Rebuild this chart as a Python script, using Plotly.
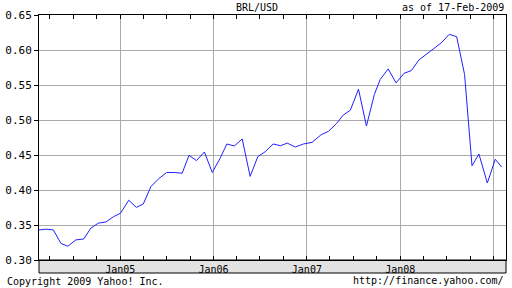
import plotly.graph_objects as go

dates = [
    "2004-02-18", "2004-03-17", "2004-04-14", "2004-05-14", "2004-06-10", "2004-07-11",
    "2004-08-11", "2004-09-08", "2004-10-07", "2004-11-06", "2004-12-06", "2005-01-02",
    "2005-02-03", "2005-03-05", "2005-04-01", "2005-05-01", "2005-05-31", "2005-07-01",
    "2005-07-31", "2005-08-31", "2005-09-27", "2005-10-26", "2005-11-26", "2005-12-27",
    "2006-01-26", "2006-02-22", "2006-03-23", "2006-04-23", "2006-05-24", "2006-06-23",
    "2006-07-22", "2006-08-22", "2006-09-20", "2006-10-16", "2006-11-17", "2006-12-18",
    "2007-01-21", "2007-02-26", "2007-03-26", "2007-04-27", "2007-05-23", "2007-06-20",
    "2007-07-22", "2007-08-22", "2007-09-22", "2007-10-15", "2007-11-15", "2007-12-16",
    "2008-01-16", "2008-02-14", "2008-03-14", "2008-04-13", "2008-05-11", "2008-06-09",
    "2008-07-11", "2008-08-09", "2008-09-09", "2008-10-08", "2008-11-04", "2008-12-07",
    "2009-01-07", "2009-02-01",
]
brl_usd = [
    0.343, 0.344, 0.343, 0.3236, 0.3197, 0.3287, 0.330, 0.3456, 0.3526, 0.3544, 0.362, 0.3668,
    0.3854, 0.3752, 0.380, 0.405, 0.416, 0.425, 0.425, 0.424, 0.4495, 0.442, 0.4543, 0.425,
    0.445, 0.4657, 0.4629, 0.4729, 0.4194, 0.4476, 0.4547, 0.4657, 0.4633, 0.467, 0.4614, 0.4657,
    0.468, 0.479, 0.4837, 0.495, 0.507, 0.514, 0.544, 0.4914, 0.5365, 0.558, 0.573, 0.553,
    0.5667, 0.5706, 0.5857, 0.594, 0.603, 0.610, 0.6224, 0.619, 0.565, 0.4346, 0.4514, 0.410,
    0.4439, 0.4328,
]
year_ticks = ["2005-01-01", "2006-01-01", "2007-01-01", "2008-01-01", "2009-01-01"]
year_labels = ["Jan05", "Jan06", "Jan07", "Jan08", ""]

MONO = "DejaVu Sans Mono"
GRID = "#aaaaaa"

fig = go.Figure()
fig.add_trace(go.Scatter(x=dates, y=brl_usd, mode="lines",
                         line=dict(color="#2020ff", width=1), showlegend=False))

fig.update_layout(
    width=512, height=288,
    margin=dict(l=34, r=5, t=15, b=28),
    paper_bgcolor="white", plot_bgcolor="white",
    font=dict(family=MONO, size=10, color="black"),
    xaxis=dict(
        range=["2004-02-18", "2009-02-18"],
        tickmode="array", tickvals=year_ticks, ticktext=year_labels,
        showgrid=True, gridcolor=GRID, gridwidth=1,
        ticks="", ticklen=0,
        showline=True, linecolor="black", linewidth=1, mirror="ticks",
        tickfont=dict(family=MONO, size=10, color="black"),
        minor=dict(tickmode="linear", tick0="2004-01-01", dtick="M3",
                   ticks="inside", ticklen=4, tickcolor="black", showgrid=False),
        zeroline=False,
    ),
    yaxis=dict(
        range=[0.30, 0.65], dtick=0.05, tick0=0.30, tickformat=".2f",
        showgrid=True, gridcolor=GRID, gridwidth=1,
        ticks="outside", ticklen=4, tickcolor="black",
        showline=True, linecolor="black", linewidth=1, mirror=True,
        tickfont=dict(family=MONO, size=11, color="black"),
        zeroline=False,
    ),
    yaxis2=dict(
        range=[0.30, 0.65], dtick=0.05, tick0=0.30, overlaying="y", side="right",
        showgrid=False, showticklabels=False, ticks="inside", ticklen=5,
        tickcolor="black", showline=False, zeroline=False,
    ),
)

# grey date band under the plot
fig.add_shape(type="rect", xref="paper", yref="paper", x0=0, x1=1,
              y0=-13 / 245, y1=0, fillcolor="#e2e2e2",
              line=dict(color="black", width=1), layer="below")

fig.add_annotation(text="BRL/USD", xref="paper", yref="paper", x=0.4675, y=1 + 7.5 / 245,
                   xanchor="center", yanchor="middle", showarrow=False,
                   font=dict(family=MONO, size=10, color="black"))
fig.add_annotation(text="as of 17-Feb-2009", xref="paper", yref="paper", x=1, y=1 + 7.5 / 245,
                   xanchor="right", yanchor="middle", showarrow=False,
                   font=dict(family=MONO, size=10, color="black"))
fig.add_annotation(text="Copyright 2009 Yahoo! Inc.", xref="paper", yref="paper",
                   x=-34 / 473, y=-21 / 245, xanchor="left", yanchor="middle", showarrow=False,
                   font=dict(family=MONO, size=10, color="black"))
fig.add_annotation(text="http://finance.yahoo.com/", xref="paper", yref="paper",
                   x=1, y=-20 / 245, xanchor="right", yanchor="middle", showarrow=False,
                   font=dict(family=MONO, size=10, color="black"))

fig.write_html("out.html")
